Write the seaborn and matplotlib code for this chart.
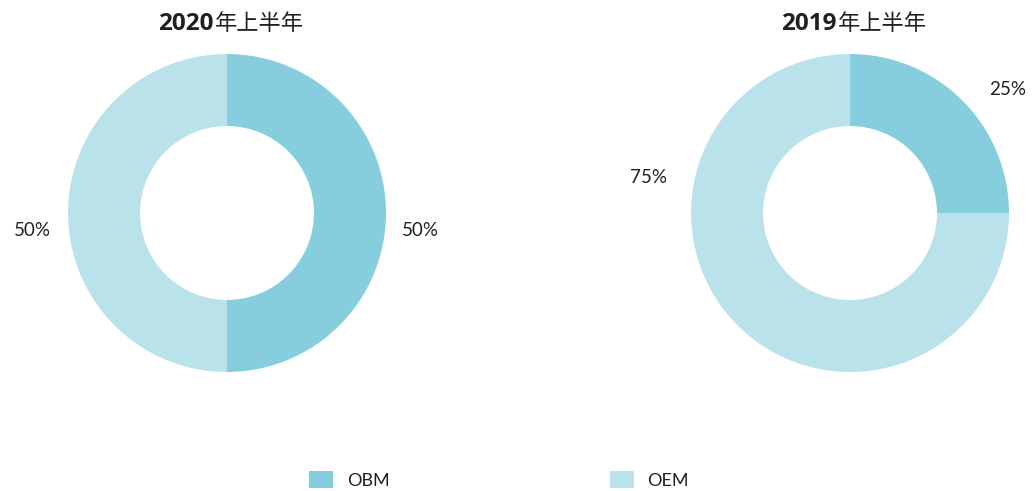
import matplotlib
matplotlib.use("Agg")
import matplotlib.pyplot as plt
import seaborn as sns
from matplotlib.patches import Patch

# ---- data ----
categories = ["OBM", "OEM"]
title_years = ["2020", "2019"]
title_suffix = "年上半年"
values_2020 = [50, 50]
values_2019 = [25, 75]
labels_2020 = ["50%", "50%"]
labels_2019 = ["25%", "75%"]

# ---- style ----
colors = ["#86CEDD", "#BAE2EA"]
text_color = "#231F20"
label_pos_2020 = [(1.214, -0.107), (-1.226, -0.107)]
label_pos_2019 = [(0.994, 0.774), (-1.27, 0.226)]

sns.set_theme(style="white")
plt.rcParams["font.family"] = ["Lato", "Noto Sans CJK SC", "DejaVu Sans"]

fig = plt.figure(figsize=(10.33, 4.91), dpi=100)
W, H = 1033, 491
R = 159
centers = [(227, 213), (850, 213)]
datasets = [(values_2020, labels_2020, label_pos_2020),
            (values_2019, labels_2019, label_pos_2019)]

for (cx, cy), year, (vals, labs, lpos) in zip(centers, title_years, datasets):
    ax = fig.add_axes([(cx - R) / W, (H - cy - R) / H, 2 * R / W, 2 * R / H])
    ax.pie(vals, colors=colors, startangle=90, counterclock=False,
           radius=1.0, wedgeprops=dict(width=0.453, linewidth=0))
    ax.set_xlim(-1, 1)
    ax.set_ylim(-1, 1)
    ax.set_aspect("equal")
    ax.axis("off")
    for lab, (lx, ly) in zip(labs, lpos):
        ax.text(lx, ly, lab, ha="center", va="center", fontsize=13.5,
                color=text_color, clip_on=False)
    split = (cx - 13) / W
    fig.text(split, 1 - 21 / H, year, ha="right", va="center_baseline",
             fontsize=17.5, fontweight="bold", color=text_color,
             family=["Open Sans", "DejaVu Sans"])
    fig.text(split + 1 / W, 1 - 21 / H, title_suffix, ha="left", va="center_baseline",
             fontsize=16, fontweight="normal", color=text_color,
             family=["Noto Sans CJK SC", "DejaVu Sans"])

handles = [Patch(facecolor=c, edgecolor="none", label=l) for c, l in zip(colors, categories)]
leg = fig.legend(handles=handles, loc="center", bbox_to_anchor=(499 / W, 1 - 480 / H),
                 ncol=2, frameon=False, fontsize=13, handlelength=1.35,
                 handleheight=1.1, handletextpad=0.75, columnspacing=12.2,
                 labelcolor=text_color)

fig.savefig("out.png", dpi=100, facecolor="white")
